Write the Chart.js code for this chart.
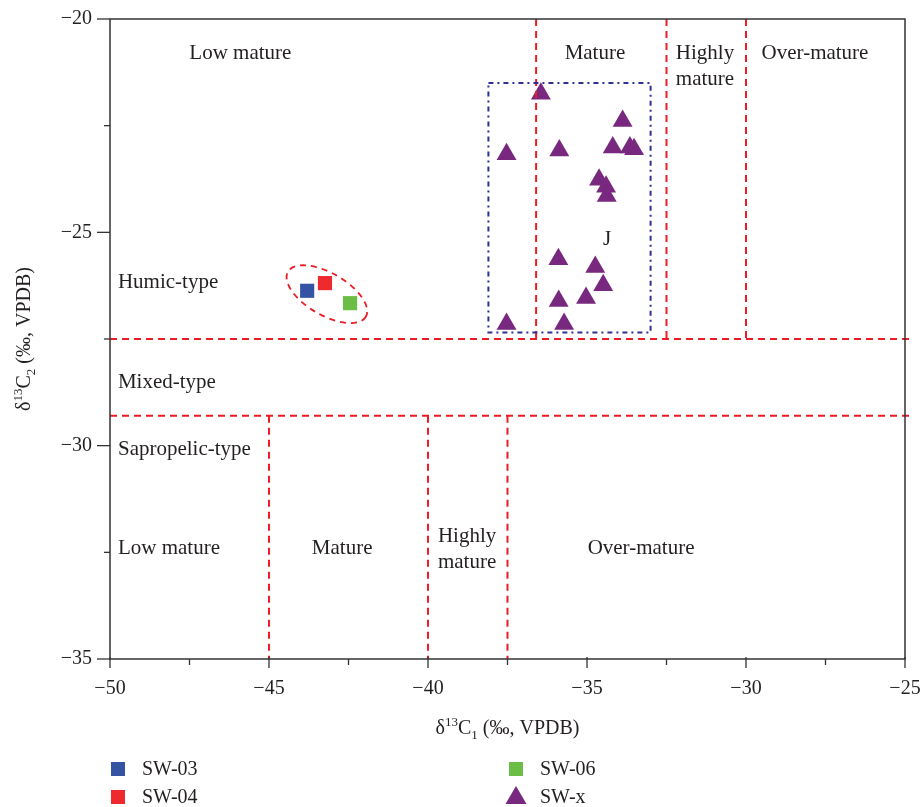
<!DOCTYPE html>
<html>
<head>
<meta charset="utf-8">
<script src="https://cdn.jsdelivr.net/npm/chart.js@4/dist/chart.umd.min.js"></script>
<style>
  html, body { margin: 0; padding: 0; background: #fff; }
  #wrap { position: relative; width: 922px; height: 807px; }
</style>
</head>
<body>
<div id="wrap"><canvas id="chart1" width="922" height="807"></canvas></div>
<script>
// sample points (delta13C1, delta13C2)
var sw03X = [-43.8];
var sw03Y = [-26.37];
var sw04X = [-43.24];
var sw04Y = [-26.19];
var sw06X = [-42.45];
var sw06Y = [-26.66];
var swxX = [-36.45, -33.88, -37.53, -35.87, -34.19, -33.65, -33.52, -34.62, -34.4, -34.38, -35.9, -34.74, -34.49, -35.03, -35.89, -37.53, -35.72];
var swxY = [-21.75, -22.39, -23.17, -23.08, -23.01, -23.01, -23.05, -23.77, -23.93, -24.15, -25.63, -25.81, -26.24, -26.54, -26.61, -27.15, -27.15];

var seriesNames = ['SW-03', 'SW-04', 'SW-06', 'SW-x'];
var seriesColors = ['#3553a3', '#ee2a2e', '#6cbd45', '#78287f'];

// axis ranges and tick values
var xRange = [-50, -25];
var yRange = [-35, -20];
var minorStep = 2.5;

// boundary lines of the classification chart
var typeLinesY = [-27.5, -29.3];
var upperMaturityX = [-36.6, -32.5, -30];
var lowerMaturityX = [-45, -40, -37.5];
var boxJ = { x1: -38.1, x2: -33.0, y1: -21.5, y2: -27.35 };
var ringCenter = { x: -43.18, y: -26.45 };

// region labels [text, x, y, align]
var regionLabels = [
    ['Low mature', -45.9, -20.77, 'center'],
    ['Mature', -34.75, -20.77, 'center'],
    ['Highly', -31.29, -20.77, 'center'],
    ['mature', -31.29, -21.38, 'center'],
    ['Over-mature', -27.83, -20.77, 'center'],
    ['J', -34.37, -25.13, 'center'],
    ['Humic-type', -49.75, -26.12, 'left'],
    ['Mixed-type', -49.75, -28.48, 'left'],
    ['Sapropelic-type', -49.75, -30.05, 'left'],
    ['Low mature', -49.75, -32.37, 'left'],
    ['Mature', -42.7, -32.37, 'center'],
    ['Highly', -38.77, -32.09, 'center'],
    ['mature', -38.77, -32.68, 'center'],
    ['Over-mature', -33.3, -32.37, 'center']
];

var FONT = '"Liberation Serif", "DejaVu Serif", serif';
var INK = '#231f20';
var RED = '#ed1c24';

function pts(xs, ys) {
    return xs.map(function(v, i) { return { x: v, y: ys[i] }; });
}

function minus(v) {
    return String(v).replace('-', '\u2212');
}

// draw text made of pieces (for super/subscripts), centred on x
function richText(ctx, parts, x, y) {
    var total = 0;
    parts.forEach(function(p) {
        ctx.font = p.size + 'px ' + FONT;
        p.w = ctx.measureText(p.t).width;
        total += p.w;
    });
    var cx = x - total / 2;
    ctx.textAlign = 'left';
    ctx.textBaseline = 'alphabetic';
    parts.forEach(function(p) {
        ctx.font = p.size + 'px ' + FONT;
        ctx.fillText(p.t, cx, y + p.dy);
        cx += p.w;
    });
}

var overlay = {
    id: 'overlay',
    afterDatasetsDraw: function(chart) {
        var ctx = chart.ctx;
        var xs = chart.scales.x, ys = chart.scales.y;
        var a = chart.chartArea;
        var X = function(v) { return xs.getPixelForValue(v); };
        var Y = function(v) { return ys.getPixelForValue(v); };

        ctx.save();

        // red dashed boundaries
        ctx.strokeStyle = RED;
        ctx.lineWidth = 2;
        ctx.setLineDash([7, 5]);
        typeLinesY.forEach(function(v) {
            ctx.beginPath();
            ctx.moveTo(a.left, Y(v));
            ctx.lineTo(a.right + 5, Y(v));
            ctx.stroke();
        });
        upperMaturityX.forEach(function(v) {
            ctx.beginPath();
            ctx.moveTo(X(v), a.top);
            ctx.lineTo(X(v), Y(typeLinesY[0]));
            ctx.stroke();
        });
        lowerMaturityX.forEach(function(v) {
            ctx.beginPath();
            ctx.moveTo(X(v), Y(typeLinesY[1]));
            ctx.lineTo(X(v), a.bottom);
            ctx.stroke();
        });

        // ring round the SW-03/04/06 group
        ctx.setLineDash([6, 5]);
        ctx.lineWidth = 1.8;
        ctx.beginPath();
        ctx.ellipse(X(ringCenter.x), Y(ringCenter.y), 45, 21, Math.PI / 6, 0, Math.PI * 2);
        ctx.stroke();

        // blue dotted box J
        ctx.strokeStyle = '#2e3192';
        ctx.lineWidth = 2;
        ctx.setLineDash([5, 4, 2, 4]);
        ctx.strokeRect(X(boxJ.x1), Y(boxJ.y1), X(boxJ.x2) - X(boxJ.x1), Y(boxJ.y2) - Y(boxJ.y1));
        ctx.setLineDash([]);

        // frame
        ctx.strokeStyle = '#333';
        ctx.lineWidth = 1.5;
        ctx.strokeRect(a.left, a.top, a.right - a.left, a.bottom - a.top);

        // tick marks, major and minor
        ctx.lineWidth = 1.3;
        for (var v = xRange[0]; v <= xRange[1] + 0.01; v += minorStep) {
            var major = Math.abs(v % 5) < 0.01;
            ctx.beginPath();
            ctx.moveTo(X(v), a.bottom - (major ? 2 : 0));
            ctx.lineTo(X(v), a.bottom + (major ? 9 : 6));
            ctx.stroke();
        }
        for (var w = yRange[0]; w <= yRange[1] + 0.01; w += minorStep) {
            var majorY = Math.abs(w % 5) < 0.01;
            ctx.beginPath();
            ctx.moveTo(a.left - (majorY ? 13 : 6), Y(w));
            ctx.lineTo(a.left, Y(w));
            ctx.stroke();
        }

        // region labels
        ctx.fillStyle = INK;
        ctx.font = '21px ' + FONT;
        ctx.textBaseline = 'middle';
        regionLabels.forEach(function(l) {
            ctx.textAlign = l[3];
            ctx.fillText(l[0], X(l[1]), Y(l[2]) + 2);
        });

        // axis titles
        var midX = (a.left + a.right) / 2;
        richText(ctx, [
            { t: '\u03b4', size: 20, dy: 0 },
            { t: '13', size: 13, dy: -8 },
            { t: 'C', size: 20, dy: 0 },
            { t: '1', size: 13, dy: 5 },
            { t: ' (\u2030, VPDB)', size: 20, dy: 0 }
        ], midX, 734);

        ctx.save();
        ctx.translate(30, (a.top + a.bottom) / 2);
        ctx.rotate(-Math.PI / 2);
        richText(ctx, [
            { t: '\u03b4', size: 20, dy: 0 },
            { t: '13', size: 13, dy: -8 },
            { t: 'C', size: 20, dy: 0 },
            { t: '2', size: 13, dy: 5 },
            { t: ' (\u2030, VPDB)', size: 20, dy: 0 }
        ], 0, 0);
        ctx.restore();

        // legend, two columns
        var cols = [118, 516];
        var rows = [769, 797];
        ctx.font = '20px ' + FONT;
        ctx.textAlign = 'left';
        ctx.textBaseline = 'middle';
        chart.data.datasets.forEach(function(ds, i) {
            var cx = cols[i < 2 ? 0 : 1];
            var cy = rows[i % 2];
            ctx.fillStyle = ds.backgroundColor;
            if (ds.pointStyle === 'triangle') {
                ctx.beginPath();
                ctx.moveTo(cx, cy - 11);
                ctx.lineTo(cx + 10.5, cy + 7);
                ctx.lineTo(cx - 10.5, cy + 7);
                ctx.closePath();
                ctx.fill();
            } else {
                ctx.fillRect(cx - 7, cy - 7, 14, 14);
            }
            ctx.fillStyle = INK;
            ctx.fillText(ds.label, cx + 24, cy + 1);
        });

        ctx.restore();
    }
};

var ctx = document.getElementById('chart1');
var myChart = new Chart(ctx, {
    type: 'scatter',
    data: {
        datasets: [
            { label: seriesNames[0], data: pts(sw03X, sw03Y), pointStyle: 'rect', pointRadius: 10 },
            { label: seriesNames[1], data: pts(sw04X, sw04Y), pointStyle: 'rect', pointRadius: 10 },
            { label: seriesNames[2], data: pts(sw06X, sw06Y), pointStyle: 'rect', pointRadius: 10 },
            { label: seriesNames[3], data: pts(swxX, swxY), pointStyle: 'triangle', pointRadius: 11.5 }
        ].map(function(ds, i) {
            ds.backgroundColor = seriesColors[i];
            ds.borderColor = seriesColors[i];
            ds.borderWidth = 0;
            return ds;
        })
    },
    options: {
        responsive: false,
        animation: false,
        events: [],
        layout: {
            padding: { left: 0, top: 19, right: 17, bottom: 0 }
        },
        plugins: {
            legend: { display: false },
            tooltip: { enabled: false }
        },
        scales: {
            x: {
                type: 'linear',
                min: xRange[0],
                max: xRange[1],
                grid: { display: false, drawTicks: false },
                border: { display: false },
                ticks: {
                    stepSize: 5,
                    padding: 18,
                    color: INK,
                    font: { family: FONT, size: 20 },
                    callback: function(v) { return minus(v); }
                },
                afterFit: function(scale) {
                    scale.height = 148;
                    scale.paddingLeft = 0;
                    scale.paddingRight = 0;
                }
            },
            y: {
                type: 'linear',
                min: yRange[0],
                max: yRange[1],
                grid: { display: false, drawTicks: false },
                border: { display: false },
                ticks: {
                    stepSize: 5,
                    padding: 18,
                    color: INK,
                    font: { family: FONT, size: 20 },
                    callback: function(v) { return minus(v); }
                },
                afterFit: function(scale) {
                    scale.width = 110;
                    scale.paddingTop = 0;
                    scale.paddingBottom = 0;
                }
            }
        }
    },
    plugins: [overlay]
});
</script>
</body>
</html>
